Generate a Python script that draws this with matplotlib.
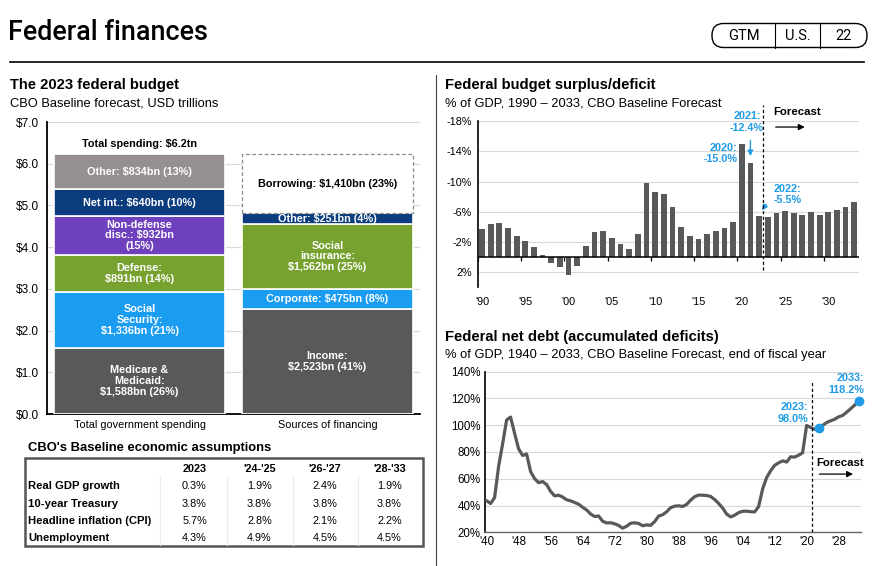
import matplotlib
matplotlib.use("Agg")
import matplotlib.pyplot as plt
from matplotlib.patches import Rectangle, FancyBboxPatch

plt.rcParams['font.family'] = ['Liberation Sans', 'DejaVu Sans']

# ---------------- data ----------------
spend_names = ["Medicare &\nMedicaid:\n$1,588bn (26%)", "Social\nSecurity:\n$1,336bn (21%)",
               "Defense:\n$891bn (14%)", "Non-defense\ndisc.: $932bn\n(15%)",
               "Net int.: $640bn (10%)", "Other: $834bn (13%)"]
spend_values = [1.588, 1.336, 0.891, 0.932, 0.640, 0.834]
fin_names = ["Income:\n$2,523bn (41%)", "Corporate: $475bn (8%)",
             "Social\ninsurance:\n$1,562bn (25%)", "Other: $251bn (4%)",
             "Borrowing: $1,410bn (23%)"]
fin_values = [2.523, 0.475, 1.562, 0.251, 1.410]
bar_categories = ["Total government spending", "Sources of financing"]
budget_yticks = [0, 1, 2, 3, 4, 5, 6, 7]

deficit_years = list(range(1990, 2034))
balance = [-3.7, -4.4, -4.5, -3.8, -2.8, -2.2, -1.3, -0.3, 0.8, 1.3,
           2.3, 1.2, -1.5, -3.3, -3.4, -2.5, -1.8, -1.1, -3.1, -9.8,
           -8.6, -8.3, -6.6, -4.0, -2.8, -2.4, -3.1, -3.4, -3.8, -4.6,
           -15.0, -12.4, -5.5, -5.3, -5.9, -6.1, -5.8, -5.6, -6.0, -5.6,
           -6.0, -6.2, -6.6, -7.3]
deficit_yticks = [-18, -14, -10, -6, -2, 2]
deficit_xticks = [1990, 1995, 2000, 2005, 2010, 2015, 2020, 2025, 2030]

debt_years = list(range(1940, 2034))
debt = [43.6, 41.5, 45.9, 69.2, 86.0, 103.9, 106.1, 93.9, 82.4, 77.4,
        78.5, 65.4, 60.1, 57.1, 57.9, 55.7, 50.6, 47.2, 47.7, 46.4,
        44.3, 43.5, 42.3, 41.0, 38.7, 36.7, 33.7, 31.8, 32.2, 28.3,
        27.0, 27.1, 26.4, 25.1, 23.1, 24.5, 26.7, 27.1, 26.6, 24.9,
        25.5, 25.2, 27.9, 32.1, 33.1, 35.3, 38.4, 39.5, 39.8, 39.3,
        40.8, 44.0, 46.6, 47.8, 47.7, 47.5, 46.8, 44.5, 41.6, 38.2,
        33.7, 31.5, 32.7, 34.7, 35.7, 35.8, 35.4, 35.2, 39.2, 52.3,
        60.9, 65.9, 70.0, 71.9, 73.4, 72.5, 76.4, 76.2, 77.6, 79.4,
        99.8, 98.4, 97.0, 98.0, 99.9, 102.0, 103.3, 104.4, 106.3, 107.3,
        109.7, 112.3, 115.0, 118.2]
debt_yticks = [20, 40, 60, 80, 100, 120, 140]
debt_xticks = list(range(1940, 2030, 8))

table_cols = ["2023", "'24-'25", "'26-'27", "'28-'33"]
table_rows = ["Real GDP growth", "10-year Treasury", "Headline inflation (CPI)", "Unemployment"]
table_vals = [["0.3%", "1.9%", "2.4%", "1.9%"],
              ["3.8%", "3.8%", "3.8%", "3.8%"],
              ["5.7%", "2.8%", "2.1%", "2.2%"],
              ["4.3%", "4.9%", "4.5%", "4.5%"]]

# ---------------- styles ----------------
DARK = "#58595b"
BLUE = "#1a9cf0"
GREEN = "#77a22f"
PURPLE = "#6f41bf"
NAVY = "#0a3c7e"
MAUVE = "#968f8f"
ANN = "#1f9be8"
GRID = "#d9d9d9"
spend_colors = [DARK, BLUE, GREEN, PURPLE, NAVY, MAUVE]
fin_colors = [DARK, BLUE, GREEN, NAVY, "white"]

W, H = 877, 566
fig = plt.figure(figsize=(W / 100, H / 100), dpi=100)
fig.patch.set_facecolor("white")

# overlay axes in pixel coordinates for header / table decorations
ov = fig.add_axes([0, 0, 1, 1])
ov.set_xlim(0, W)
ov.set_ylim(H, 0)
ov.axis("off")


def ax_px(x0, y0, x1, y1):
    return fig.add_axes([x0 / W, 1 - y1 / H, (x1 - x0) / W, (y1 - y0) / H])


def ptext(x, y, s, **kw):
    ov.text(x, y, s, **kw)


# ---------------- header ----------------
ptext(8, 33, "Federal finances", fontsize=19.4, va="center", ha="left", color="black",
      family=["Roboto", "Liberation Sans"], fontweight="medium")
ov.plot([10, 864], [62, 62], color="black", lw=1.2)
ov.plot([436, 436], [75, 566], color="#444444", lw=0.8)
ov.add_patch(FancyBboxPatch((712, 23.5), 155, 24, boxstyle="round,pad=0,rounding_size=11.5",
                            fill=False, ec="black", lw=1.0))
for xs in (775, 820):
    ov.plot([xs, xs], [23.5, 47.5], color="black", lw=0.8)
for xs, s in ((744, "GTM"), (797.5, "U.S."), (843, "22")):
    ptext(xs, 36, s, fontsize=10.5, ha="center", va="center",
          family=["Roboto", "Liberation Sans"])

# ---------------- left: stacked bars ----------------
ptext(10, 85, "The 2023 federal budget", fontsize=10.6, fontweight="bold", va="center")
ptext(10, 103, "CBO Baseline forecast, USD trillions", fontsize=9.3, va="center")

ax1 = ax_px(47, 122, 420, 414)
ax1.set_xlim(-0.493, 1.493)
ax1.set_ylim(0, 7)
bw = 0.91
LBL = 7.8
bottom = 0.0
for v, c, t in zip(spend_values, spend_colors, spend_names):
    ax1.bar(0, v, bw, bottom=bottom, color=c, edgecolor="white", linewidth=1.2, zorder=3)
    ax1.text(0, bottom + v / 2, t, ha="center", va="center", color="white",
             fontsize=LBL, fontweight="bold", linespacing=1.1, zorder=4)
    bottom += v
ax1.text(0, bottom + 0.25, "Total spending: $6.2tn", ha="center", va="center",
         fontsize=LBL, fontweight="bold", color="black")
bottom = 0.0
for v, c, t in zip(fin_values, fin_colors, fin_names):
    if c == "white":
        ax1.bar(1, v, bw, bottom=bottom, color="white", edgecolor="#8c8c8c",
                linewidth=0.9, linestyle=(0, (3, 2)), zorder=3)
        ax1.text(1, bottom + v / 2, t, ha="center", va="center", color="black",
                 fontsize=LBL, fontweight="bold", zorder=4)
    else:
        ax1.bar(1, v, bw, bottom=bottom, color=c, edgecolor="white", linewidth=1.2, zorder=3)
        ax1.text(1, bottom + v / 2, t, ha="center", va="center", color="white",
                 fontsize=LBL, fontweight="bold", linespacing=1.1, zorder=4)
    bottom += v
ax1.set_yticks(budget_yticks)
ax1.set_yticklabels([f"${v:.1f}" for v in budget_yticks], fontsize=8.5)
ax1.set_xticks([0, 1])
ax1.set_xticklabels(bar_categories, fontsize=7.8)
ax1.tick_params(length=0, pad=4)
ax1.tick_params(axis="y", pad=6)
ax1.grid(axis="y", color=GRID, lw=0.8, zorder=0)
for s in ("top", "right"):
    ax1.spines[s].set_visible(False)
for s in ("left", "bottom"):
    ax1.spines[s].set_color("black")
    ax1.spines[s].set_linewidth(1.3)

# ---------------- left: table ----------------
ptext(28, 448.5, "CBO's Baseline economic assumptions", fontsize=9.4, fontweight="bold", va="center")
ov.add_patch(Rectangle((25, 458.3), 398, 87.7, fill=False, ec="#555555", lw=1.8))
col_x = [194.5, 259.5, 325, 389.5]
for xs in (160, 227, 293, 358):
    ov.plot([xs, xs], [476, 545], color="#ececec", lw=0.8)
for cx, c in zip(col_x, table_cols):
    ptext(cx, 469.5, c, fontsize=7.8, fontweight="bold", ha="center", va="center")
row_y = [486, 504, 521, 538]
for ry, rname, rvals in zip(row_y, table_rows, table_vals):
    ptext(28.5, ry, rname, fontsize=8.1, fontweight="bold", ha="left", va="center")
    for cx, v in zip(col_x, rvals):
        ptext(cx, ry, v, fontsize=7.8, ha="center", va="center")

# ---------------- right top: deficit ----------------
ptext(445, 85, "Federal budget surplus/deficit", fontsize=10.6, fontweight="bold", va="center")
ptext(445, 103, "% of GDP, 1990 \u2013 2033, CBO Baseline Forecast", fontsize=9.3, va="center")

ax2 = ax_px(477.7, 121, 858.6, 287.5)
ax2.bar(deficit_years, balance, 0.66, color=DARK, zorder=3)
ax2.set_xlim(1989.5, 2033.5)
ax2.set_ylim(4, -18)
ax2.set_yticks(deficit_yticks)
ax2.set_yticklabels([f"{v}%" for v in deficit_yticks], fontsize=7.8)
ax2.set_xticks(deficit_xticks)
ax2.set_xticklabels([f"'{y % 100:02d}" for y in deficit_xticks], fontsize=7.8)
ax2.tick_params(length=0, pad=4)
ax2.tick_params(axis="x", pad=7)
ax2.grid(axis="y", color=GRID, lw=0.8, zorder=0)
ax2.axhline(0, color="black", lw=1.1, zorder=4)
ax2.vlines([x - 0.5 for x in deficit_xticks], 0, 0.45, color="black", lw=0.9, zorder=4)
for s in ("top", "right", "bottom"):
    ax2.spines[s].set_visible(False)
ax2.spines["left"].set_color("black")
ax2.spines["left"].set_linewidth(1.2)
ax2.plot([2022.5, 2022.5], [1.7, -20.1], color="black", lw=0.9, ls=(0, (2.5, 2)),
         clip_on=False, zorder=5)
ax2.text(2023.6, -19.2, "Forecast", fontsize=8.2, fontweight="bold", va="center", ha="left")
ax2.annotate("", xy=(2027.6, -17.2), xytext=(2023.6, -17.2),
             arrowprops=dict(arrowstyle="-|>", color="black", lw=0.9, mutation_scale=9),
             annotation_clip=False)
ax2.text(2020.6, -17.9, "2021:\n-12.4%", color=ANN, fontsize=7.8, fontweight="bold",
         ha="center", va="center", linespacing=1.2)
ax2.annotate("", xy=(2021, -13.0), xytext=(2021, -15.8),
             arrowprops=dict(arrowstyle="-|>", color=ANN, lw=1.0, mutation_scale=8))
ax2.text(2019.5, -13.7, "2020:\n-15.0%", color=ANN, fontsize=7.8, fontweight="bold",
         ha="right", va="center", linespacing=1.2)
ax2.text(2023.7, -8.3, "2022:\n-5.5%", color=ANN, fontsize=7.8, fontweight="bold",
         ha="left", va="center", linespacing=1.2)
ax2.annotate("", xy=(2022.15, -5.9), xytext=(2023.0, -7.3),
             arrowprops=dict(arrowstyle="-|>", color=ANN, lw=1.0, mutation_scale=8))

# ---------------- right bottom: debt ----------------
ptext(445, 337, "Federal net debt (accumulated deficits)", fontsize=10.6, fontweight="bold", va="center")
ptext(445, 355, "% of GDP, 1940 \u2013 2033, CBO Baseline Forecast, end of fiscal year",
      fontsize=9.3, va="center")

ax3 = ax_px(485, 371.7, 861, 532.3)
ax3.plot(debt_years, debt, color=DARK, lw=2.3, zorder=3, solid_capstyle="round")
ax3.set_xlim(1939.6, 2033.6)
ax3.set_ylim(20, 140)
ax3.set_yticks(debt_yticks)
ax3.set_yticklabels([f"{v}%" for v in debt_yticks], fontsize=8.3)
ax3.set_xticks(debt_xticks)
ax3.set_xticklabels([f"'{y % 100:02d}" for y in debt_xticks], fontsize=8.3)
ax3.tick_params(length=0, pad=3)
ax3.grid(axis="y", color=GRID, lw=0.8, zorder=0)
for s in ("top", "right"):
    ax3.spines[s].set_visible(False)
ax3.spines["left"].set_color("black")
ax3.spines["left"].set_linewidth(1.2)
ax3.spines["bottom"].set_color("#666666")
ax3.spines["bottom"].set_linewidth(1.0)
i23 = debt_years.index(2023)
i33 = debt_years.index(2033)
ax3.scatter([debt_years[i23], debt_years[i33]], [debt[i23], debt[i33]], s=36,
            color=ANN, zorder=5, clip_on=False)
ax3.plot([2021.3, 2021.3], [20, 133], color="black", lw=0.9, ls=(0, (2.5, 2)), zorder=4)
ax3.text(2022.5, 72, "Forecast", fontsize=8.2, fontweight="bold", va="center", ha="left")
ax3.annotate("", xy=(2032.3, 63.5), xytext=(2022.5, 63.5),
             arrowprops=dict(arrowstyle="-|>", color="black", lw=0.9, mutation_scale=9))
ax3.text(2020.4, 109.5, "2023:\n98.0%", color=ANN, fontsize=7.8, fontweight="bold",
         ha="right", va="center", linespacing=1.25)
ax3.text(2034.3, 130.5, "2033:\n118.2%", color=ANN, fontsize=7.8, fontweight="bold",
         ha="right", va="center", linespacing=1.25)

fig.savefig("out.png", dpi=100)
